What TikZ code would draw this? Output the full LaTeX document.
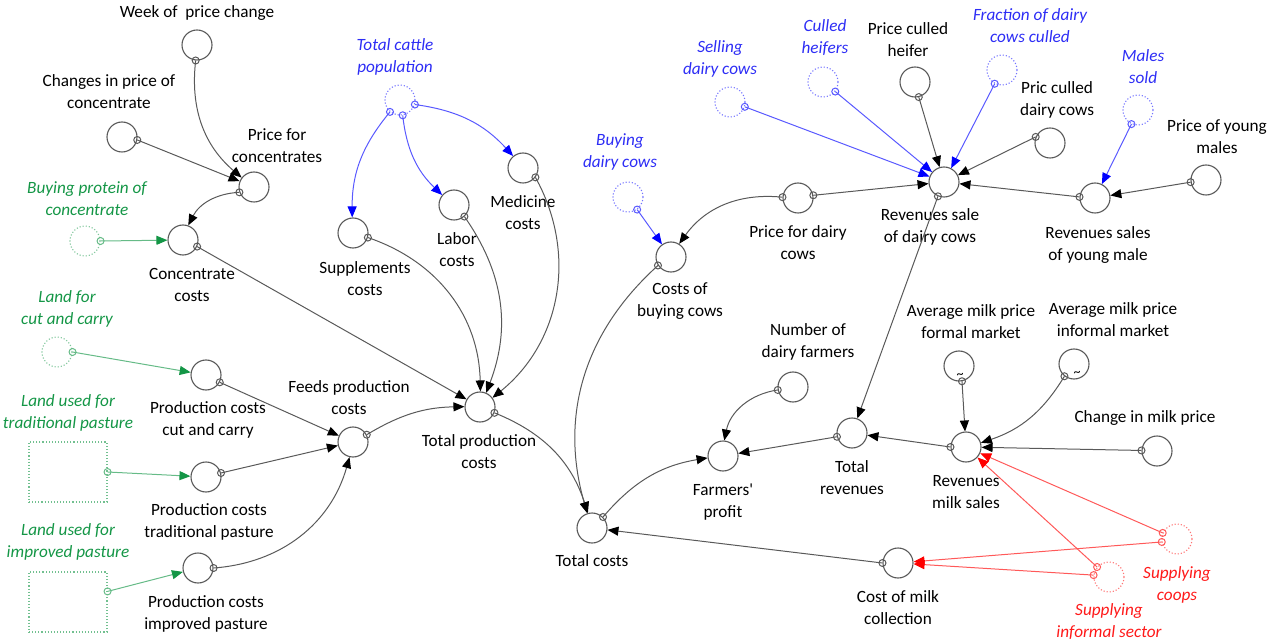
\documentclass[tikz,border=0pt]{standalone}
\usepackage{fontspec}
\setmainfont{Carlito}
\usetikzlibrary{arrows.meta}

\definecolor{vgreen}{RGB}{20,150,70}
\definecolor{vblue}{RGB}{45,45,245}
\definecolor{vred}{RGB}{255,25,25}

\begin{document}
\begin{tikzpicture}[x = 0.5pt, y = -0.5pt,
	var/.style = {circle, draw = black!65, line width = 0.55pt, minimum size = 15pt, inner sep = 0pt},
	ghost/.style = {circle, draw = #1!55, densely dotted, line width = 0.55pt, minimum size = 15pt, inner sep = 0pt},
	landbox/.style = {rectangle, draw = vgreen!60, densely dotted, line width = 0.55pt, minimum width = 39pt, minimum height = 30pt, inner sep = 0pt},
	txt/.style = {align = center, inner sep = 0pt, font = \fontsize{8.6}{11}\selectfont},
	itxt/.style = {txt, text = #1, font = \fontsize{8.6}{11}\selectfont\itshape},
	link/.style = {line width = 0.5pt, draw = #1!65, -{Triangle[length = 5.5pt, width = 4.5pt, color = #1]}},
	port/.style = {line width = 0.5pt, draw = #1!65}]

	\useasboundingbox (0, 0) rectangle (1267, 641);

	% Feed side
	
	\node [var] (week) at (197, 45) {};
	\node [txt] (week-t) at (197, 13) {Week of~ price change};
	\node [var] (chgconc) at (122, 137) {};
	\node [txt] (chgconc-t) at (109, 92) {Changes in price of\\concentrate};
	\node [var] (pconc) at (254, 187) {};
	\node [txt] (pconc-t) at (277, 146) {Price for\\concentrates};
	\node [ghost = vgreen] (buyprot) at (85, 241) {};
	\node [itxt = vgreen] (buyprot-t) at (87, 199) {Buying protein of\\concentrate};
	\node [var] (concost) at (183, 240) {};
	\node [txt] (concost-t) at (192, 285) {Concentrate\\costs};
	\node [ghost = vgreen] (landcut) at (57, 352) {};
	\node [itxt = vgreen] (landcut-t) at (67, 309) {Land for\\cut and carry};
	\node [landbox] (landtrad) at (68, 472) {};
	\node [itxt = vgreen] (landtrad-t) at (68, 413) {Land used for\\traditional pasture};
	\node [landbox] (landimp) at (68, 602) {};
	\node [itxt = vgreen] (landimp-t) at (68, 542) {Land used for\\improved pasture};
	\node [var] (prodcut) at (206, 375) {};
	\node [txt] (prodcut-t) at (208, 420) {Production costs\\cut and carry};
	\node [var] (prodtrad) at (206, 477) {};
	\node [txt] (prodtrad-t) at (209, 522) {Production costs\\traditional pasture};
	\node [var] (prodimp) at (198, 568) {};
	\node [txt] (prodimp-t) at (206, 614) {Production costs\\improved pasture};
	\node [var] (feeds) at (353, 442) {};
	\node [txt] (feeds-t) at (349, 398) {Feeds production\\costs};

	% Herd costs
	
	\node [ghost = blue] (cattle) at (400, 100) {};
	\node [itxt = vblue] (cattle-t) at (395, 57) {Total cattle\\population};
	\node [var] (supp) at (353, 233) {};
	\node [txt] (supp-t) at (365, 279) {Supplements\\costs};
	\node [var] (labor) at (454, 205) {};
	\node [txt] (labor-t) at (457, 250) {Labor\\costs};
	\node [var] (med) at (523, 168) {};
	\node [txt] (med-t) at (523, 213) {Medicine\\costs};
	\node [var] (totprod) at (480, 407) {};
	\node [txt] (totprod-t) at (479, 452) {Total production\\costs};
	\node [var] (totcost) at (592, 528) {};
	\node [txt] (totcost-t) at (592, 561) {Total costs};
	\node [ghost = blue] (buydairy) at (628, 197) {};
	\node [itxt = vblue] (buydairy-t) at (620, 152) {Buying\\dairy cows};
	\node [var] (buycost) at (671, 257) {};
	\node [txt] (buycost-t) at (680, 301) {Costs of\\buying cows};

	% Cattle sales
	
	\node [ghost = blue] (selling) at (730, 102) {};
	\node [itxt = vblue] (selling-t) at (720, 59) {Selling\\dairy cows};
	\node [ghost = blue] (culled) at (823, 82) {};
	\node [itxt = vblue] (culled-t) at (825, 38) {Culled\\heifers};
	\node [var] (pheifer) at (915, 82) {};
	\node [txt] (pheifer-t) at (908, 40) {Price culled\\heifer};
	\node [ghost = blue] (fraction) at (1002, 70) {};
	\node [itxt = vblue] (fraction-t) at (1030, 26) {Fraction of dairy\\cows culled};
	\node [var] (pculled) at (1050, 143) {};
	\node [txt] (pculled-t) at (1057, 100) {Pric culled\\dairy cows};
	\node [ghost = blue] (males) at (1138, 110) {};
	\node [itxt = vblue] (males-t) at (1143, 67) {Males\\sold};
	\node [var] (pyoung) at (1206, 180) {};
	\node [txt] (pyoung-t) at (1217, 137) {Price of young\\males};
	\node [var] (revsale) at (944, 182) {};
	\node [txt] (revsale-t) at (930, 227) {Revenues sale\\of dairy cows};
	\node [var] (revyoung) at (1095, 198) {};
	\node [txt] (revyoung-t) at (1098, 245) {Revenues sales\\of young male};
	\node [var] (pdairy) at (798, 198) {};
	\node [txt] (pdairy-t) at (798, 243) {Price for dairy\\cows};

	% Milk and profit
	
	\node [var] (numfarm) at (793, 387) {};
	\node [txt] (numfarm-t) at (808, 342) {Number of\\dairy farmers};
	\node [var] (profit) at (723, 456) {};
	\node [txt] (profit-t) at (723, 502) {Farmers\textquotesingle\\profit};
	\node [var] (totrev) at (852, 433) {};
	\node [txt] (totrev-t) at (852, 478) {Total\\revenues};
	\node [var] (avgform) at (959, 366) {};
	\node [txt] (avgform-t) at (971, 322) {Average milk price\\formal market};
	\node [font = \fontsize{7}{7}\selectfont, inner sep = 0pt] (avgform-s) at (960, 376) {\textasciitilde};
	\node [var] (avginf) at (1074, 364) {};
	\node [txt] (avginf-t) at (1113, 320) {Average milk price\\informal market};
	\node [font = \fontsize{7}{7}\selectfont, inner sep = 0pt] (avginf-s) at (1077, 374) {\textasciitilde};
	\node [var] (revmilk) at (966, 447) {};
	\node [txt] (revmilk-t) at (966, 492) {Revenues\\milk sales};
	\node [var] (chgmilk) at (1157, 451) {};
	\node [txt] (chgmilk-t) at (1145, 418) {Change in milk price};
	\node [var] (costmilk) at (898, 563) {};
	\node [txt] (costmilk-t) at (898, 608) {Cost of milk\\collection};
	\node [ghost = red] (coops) at (1177, 539) {};
	\node [itxt = vred] (coops-t) at (1177, 585) {Supplying\\coops};
	\node [ghost = red] (inform) at (1109, 577) {};
	\node [itxt = vred] (inform-t) at (1109, 622) {Supplying\\informal sector};

	% Links: tail anchor / head / bend
	
	\foreach \a/\b/\c in {week.-95/pconc/-28, chgconc.-11/pconc/0, pconc.-160/concost/-30,
			concost.-25/totprod/0, prodcut.-28/feeds/0, prodtrad.15/feeds/0, prodimp.0/feeds/-35,
			feeds.28/totprod/15, supp.-17/totprod/35, labor.-48/totprod/28, med.-37/totprod/40,
			totprod.-22/totcost/25, buycost.-147/totcost/-32, totcost.45/profit/20,
			pdairy.177/buycost/-30, pdairy.10/revsale/0, pheifer.-76/revsale/0,
			pculled.157/revsale/0, revyoung.176/revsale/0, pyoung.-172/revyoung/0,
			revsale.-113/totrev/0, revmilk.180/totrev/0, totrev.-166/profit/0,
			numfarm.-169/profit/-35, avgform.-79/revmilk/0, avginf.-128/revmilk/20,
			chgmilk.178/revmilk/0, costmilk.180/totcost/0}
	{
		\draw [link = black] (\a) to [bend left = \c] (\b);
		\draw [port = black] (\a) circle [radius = 1.75pt];
	}

	\foreach \a/\b/\c in {cattle.-130/supp/-20, cattle.-80/labor/-20, cattle.-17/med/20,
			buydairy.-54/buycost/0, selling.-18/revsale/0, culled.-38/revsale/0,
			fraction.-118/revsale/0, males.-115/revyoung/0}
	{
		\draw [link = blue] (\a) to [bend left = \c] (\b);
		\draw [port = blue] (\a) circle [radius = 1.75pt];
	}

	\foreach \a/\b in {buyprot.0/concost, landcut.0/prodcut, landtrad.east/prodtrad, landimp.15/prodimp}
	{
		\draw [link = vgreen] (\a) -- (\b);
		\draw [port = vgreen] (\a) circle [radius = 1.75pt];
	}

	\foreach \a/\b in {coops.157/revmilk, coops.-169/costmilk, inform.140/revmilk, inform.173/costmilk}
	{
		\draw [link = red] (\a) -- (\b);
		\draw [port = red] (\a) circle [radius = 1.75pt];
	}

\end{tikzpicture}
\end{document}
